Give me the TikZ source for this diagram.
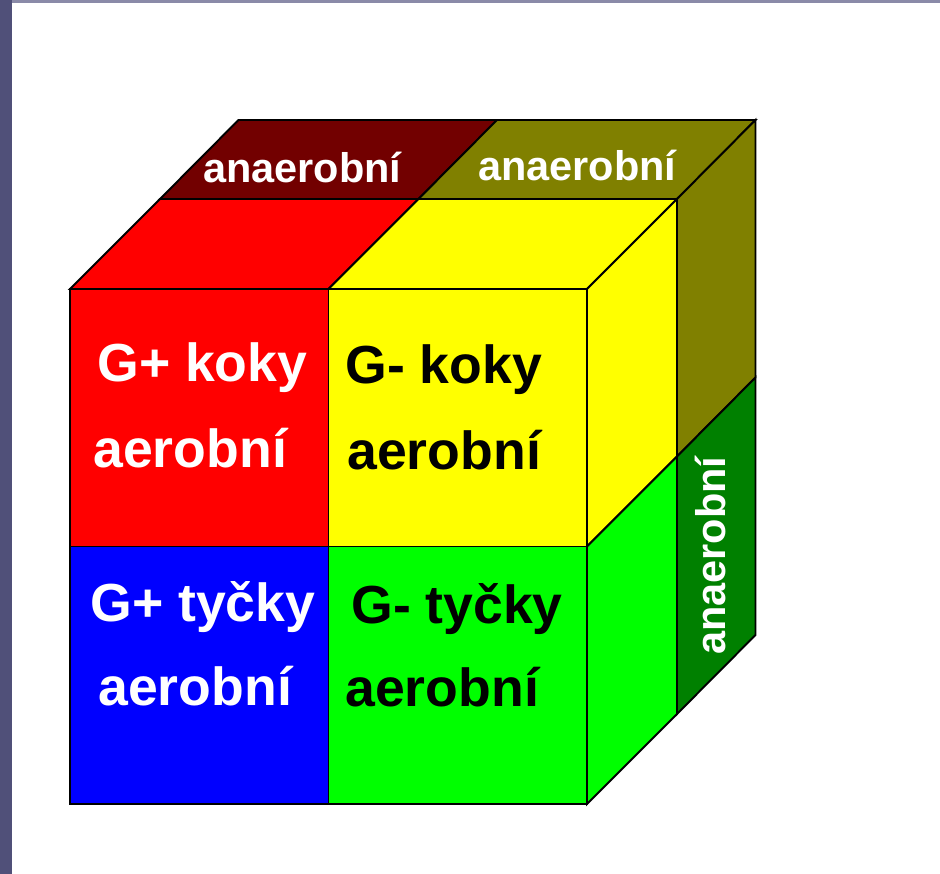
\documentclass[tikz,border=0pt]{standalone}
\usepackage{fontspec}
\setmainfont{Liberation Sans}
\usepackage{xcolor}
\definecolor{slideBar}{HTML}{505079}
\definecolor{slideTop}{HTML}{8A8AA8}
\definecolor{cubeRed}{HTML}{FF0000}
\definecolor{cubeYellow}{HTML}{FFFF00}
\definecolor{cubeBlue}{HTML}{0000FF}
\definecolor{cubeGreen}{HTML}{00FF00}
\definecolor{cubeDarkRed}{HTML}{720000}
\definecolor{cubeOlive}{HTML}{808000}
\definecolor{cubeDarkGreen}{HTML}{008000}
\usepackage{tikz}
\usetikzlibrary{positioning,calc}
\tikzset{%
  cubeCell/.style={%
    draw=black,
    line width=1.1pt,
    line join=miter
  },
  bigLabel/.style={%
    font=\fontsize{30.5}{36}\selectfont\bfseries,
    inner sep=0pt,
    anchor=base west
  },
  smallLabel/.style={%
    font=\fontsize{23.6}{28}\selectfont\bfseries,
    inner sep=0pt,
    anchor=base west,
    text=white
  }
}

\begin{document}
\begin{tikzpicture}[x=0.02cm,y=-0.02cm]
            \useasboundingbox (0,0) rectangle (940,874);
            % slide background
            \fill[white] (0,0) rectangle (940,874);
            \fill[slideBar] (0,0) rectangle (12,874);
            \fill[slideTop] (12,0) rectangle (940,3);

            % corners of the 2x2x2 cube: p<column><row><depth>
            \foreach \i in {0,1,2}
              \foreach \j in {0,1,2}
                \foreach \k/\dx/\dy in {0/0/0,1/90/90,2/168.5/169}
                  \coordinate (p\i\j\k) at ({70+258.5*\i+\dx},{804-257.5*\j-\dy});

            % front face
            \filldraw[cubeCell, fill=cubeRed] (p010) -- (p110) -- (p120) -- (p020) -- cycle;
            \filldraw[cubeCell, fill=cubeYellow] (p110) -- (p210) -- (p220) -- (p120) -- cycle;
            \filldraw[cubeCell, fill=cubeBlue] (p000) -- (p100) -- (p110) -- (p010) -- cycle;
            \filldraw[cubeCell, fill=cubeGreen] (p100) -- (p200) -- (p210) -- (p110) -- cycle;
            % top face
            \filldraw[cubeCell, fill=cubeRed] (p020) -- (p120) -- (p121) -- (p021) -- cycle;
            \filldraw[cubeCell, fill=cubeYellow] (p120) -- (p220) -- (p221) -- (p121) -- cycle;
            \filldraw[cubeCell, fill=cubeDarkRed] (p021) -- (p121) -- (p122) -- (p022) -- cycle;
            \filldraw[cubeCell, fill=cubeOlive] (p121) -- (p221) -- (p222) -- (p122) -- cycle;
            % right face
            \filldraw[cubeCell, fill=cubeYellow] (p210) -- (p220) -- (p221) -- (p211) -- cycle;
            \filldraw[cubeCell, fill=cubeGreen] (p200) -- (p210) -- (p211) -- (p201) -- cycle;
            \filldraw[cubeCell, fill=cubeOlive] (p211) -- (p221) -- (p222) -- (p212) -- cycle;
            \filldraw[cubeCell, fill=cubeDarkGreen] (p201) -- (p211) -- (p212) -- (p202) -- cycle;

            % labels
            \node[bigLabel, text=white] (gpKoky) at (97,382) {G+ koky};
            \node[bigLabel, text=white] (gpKokyAer) at (93,468) {aerobní};
            \node[bigLabel] (gnKoky) at (345,384) {G- koky};
            \node[bigLabel] (gnKokyAer) at (347,470) {aerobní};
            \node[bigLabel, text=white] (gpTycky) at (90,622) {G+ tyčky};
            \node[bigLabel, text=white] (gpTyckyAer) at (98,705) {aerobní};
            \node[bigLabel] (gnTycky) at (351,623) {G- tyčky};
            \node[bigLabel] (gnTyckyAer) at (345,706) {aerobní};
            \node[smallLabel] (anaerLeft) at (203,183) {anaerobní};
            \node[smallLabel] (anaerRight) at (478,181) {anaerobní};
            \node[smallLabel, rotate=90] (anaerSide) at (725,655) {anaerobní};
        \end{tikzpicture}
\end{document}
